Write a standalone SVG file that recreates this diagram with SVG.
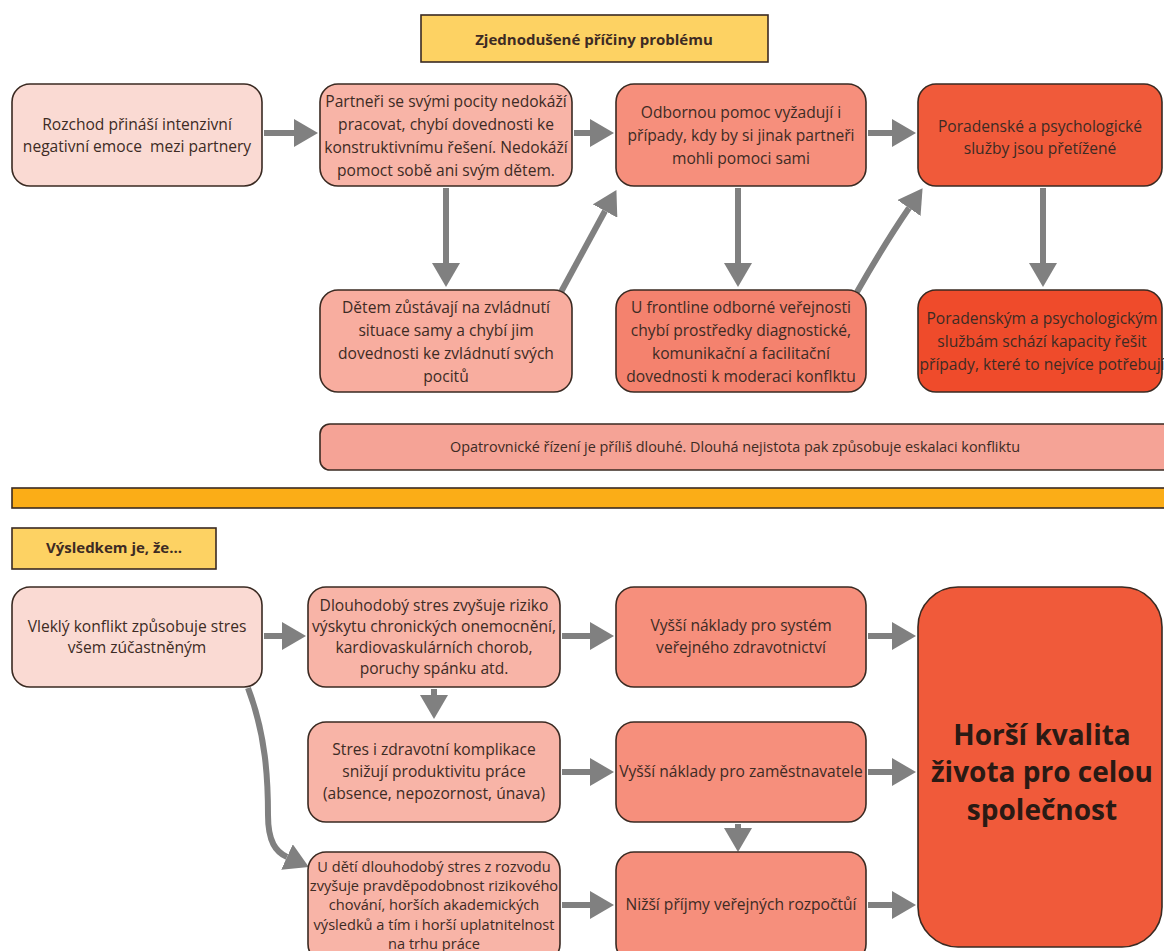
<svg xmlns="http://www.w3.org/2000/svg" width="1164" height="951" viewBox="0 0 1164 951">
<style>
.box{stroke:#3a2a22;stroke-width:1.6}
.t{font-family:"Open Sans","Noto Sans","Liberation Sans",sans-serif;font-size:15.6px;fill:#3d2b24;text-anchor:middle}
.s{font-size:14.6px}
.b{font-weight:bold;font-size:15px}
.big{font-size:28px;font-weight:bold;fill:#2a1a14}
.c1{fill:#fadad3}.c2{fill:#f8b4a7}.c3{fill:#f68f7c}.c4{fill:#f05a3a}.c5{fill:#f8ad9f}.c6{fill:#f4826e}.c7{fill:#ef4b2b}
.cl{fill:#f5a396}.cy{fill:#fdd263}.co{fill:#fbad17}
.ar{fill:none;stroke:#808080;stroke-width:6}
</style>
<defs>
<marker id="ah" viewBox="0 0 24 28" refX="0" refY="14" markerWidth="24" markerHeight="28" markerUnits="userSpaceOnUse" orient="auto">
<path d="M0,0 L24,14 L0,28 z" fill="#808080"/>
</marker>
</defs>
<rect width="1164" height="951" fill="#ffffff"/>

<g id="title">
<rect class="box cy" x="421" y="15" width="347" height="47"/>
<text class="t b" x="594" y="45">Zjednodušené příčiny problému</text>
</g>

<g id="connectors">
<line class="ar" x1="264" y1="133" x2="294" y2="133" marker-end="url(#ah)"/>
<line class="ar" x1="574" y1="133" x2="590" y2="133" marker-end="url(#ah)"/>
<line class="ar" x1="868" y1="133" x2="892" y2="133" marker-end="url(#ah)"/>
<line class="ar" x1="446" y1="188" x2="446" y2="263" marker-end="url(#ah)"/>
<line class="ar" x1="738" y1="188" x2="738" y2="263" marker-end="url(#ah)"/>
<line class="ar" x1="1043" y1="188" x2="1043" y2="263" marker-end="url(#ah)"/>
<path class="ar" d="M561,292 Q585,248 605,211" marker-end="url(#ah)"/>
<path class="ar" d="M857,292 Q885,243 909,208" marker-end="url(#ah)"/>
<line class="ar" x1="264" y1="636" x2="282" y2="636" marker-end="url(#ah)"/>
<line class="ar" x1="562" y1="636" x2="590" y2="636" marker-end="url(#ah)"/>
<line class="ar" x1="562" y1="772" x2="590" y2="772" marker-end="url(#ah)"/>
<line class="ar" x1="562" y1="905" x2="590" y2="905" marker-end="url(#ah)"/>
<line class="ar" x1="868" y1="636" x2="892" y2="636" marker-end="url(#ah)"/>
<line class="ar" x1="868" y1="772" x2="892" y2="772" marker-end="url(#ah)"/>
<line class="ar" x1="868" y1="905" x2="892" y2="905" marker-end="url(#ah)"/>
<line class="ar" x1="434" y1="689" x2="434" y2="695" marker-end="url(#ah)"/>
<line class="ar" x1="738" y1="824" x2="738" y2="828" marker-end="url(#ah)"/>
<path class="ar" d="M248,688 C266,735 268,780 268,815 C268,842 276,852 287,857" marker-end="url(#ah)"/>
</g>

<g id="n1">
<rect class="box c1" x="12" y="84" width="250" height="102" rx="18"/>
<text class="t" x="137" y="130" xml:space="preserve"><tspan x="137">Rozchod přináší intenzivní</tspan><tspan x="137" dy="22">negativní emoce  mezi partnery</tspan></text>
</g>
<g id="n2">
<rect class="box c2" x="320" y="84" width="252" height="102" rx="18"/>
<text class="t" x="446" y="107"><tspan x="446">Partneři se svými pocity nedokáží</tspan><tspan x="446" dy="23">pracovat, chybí dovednosti ke</tspan><tspan x="446" dy="23">konstruktivnímu řešení. Nedokáží</tspan><tspan x="446" dy="23">pomoct sobě ani svým dětem.</tspan></text>
</g>
<g id="n3">
<rect class="box c3" x="616" y="84" width="250" height="102" rx="18"/>
<text class="t" x="741" y="118"><tspan x="741">Odbornou pomoc vyžadují i</tspan><tspan x="741" dy="23">případy, kdy by si jinak partneři</tspan><tspan x="741" dy="23">mohli pomoci sami</tspan></text>
</g>
<g id="n4">
<rect class="box c4" x="918" y="84" width="244" height="102" rx="18"/>
<text class="t" x="1040" y="132"><tspan x="1040">Poradenské a psychologické</tspan><tspan x="1040" dy="22">služby jsou přetížené</tspan></text>
</g>
<g id="n5">
<rect class="box c5" x="320" y="290" width="252" height="102" rx="18"/>
<text class="t" x="446" y="313"><tspan x="446">Dětem zůstávají na zvládnutí</tspan><tspan x="446" dy="23">situace samy a chybí jim</tspan><tspan x="446" dy="23">dovednosti ke zvládnutí svých</tspan><tspan x="446" dy="23">pocitů</tspan></text>
</g>
<g id="n6">
<rect class="box c6" x="616" y="290" width="250" height="102" rx="18"/>
<text class="t" x="741" y="313"><tspan x="741">U frontline odborné veřejnosti</tspan><tspan x="741" dy="23">chybí prostředky diagnostické,</tspan><tspan x="741" dy="23">komunikační a facilitační</tspan><tspan x="741" dy="23">dovednosti k moderaci konflktu</tspan></text>
</g>
<g id="n7">
<rect class="box c7" x="918" y="290" width="244" height="102" rx="18"/>
<text class="t" x="1042" y="324"><tspan x="1042">Poradenským a psychologickým</tspan><tspan x="1042" dy="23">službám schází kapacity řešit</tspan><tspan x="1042" dy="23">případy, které to nejvíce potřebují</tspan></text>
</g>
<g id="n8">
<rect class="box cl" x="320" y="424" width="870" height="46" rx="10"/>
<text class="t" x="735" y="452" style="font-size:14.4px">Opatrovnické řízení je příliš dlouhé. Dlouhá nejistota pak způsobuje eskalaci konfliktu</text>
</g>

<g id="divider">
<rect class="box co" x="12" y="488" width="1160" height="20"/>
</g>

<g id="result-label">
<rect class="box cy" x="12" y="528" width="204" height="41"/>
<text class="t b" x="114" y="553">Výsledkem je, že...</text>
</g>

<g id="b1">
<rect class="box c1" x="12" y="587" width="250" height="100" rx="18"/>
<text class="t" x="137" y="632"><tspan x="137">Vleklý konflikt způsobuje stres</tspan><tspan x="137" dy="21">všem zúčastněným</tspan></text>
</g>
<g id="b2">
<rect class="box c2" x="308" y="587" width="252" height="100" rx="18"/>
<text class="t" x="434" y="611"><tspan x="434">Dlouhodobý stres zvyšuje riziko</tspan><tspan x="434" dy="21">výskytu chronických onemocnění,</tspan><tspan x="434" dy="21">kardiovaskulárních chorob,</tspan><tspan x="434" dy="21">poruchy spánku atd.</tspan></text>
</g>
<g id="b3">
<rect class="box c2" x="308" y="722" width="252" height="100" rx="18"/>
<text class="t" x="434" y="755"><tspan x="434">Stres i zdravotní komplikace</tspan><tspan x="434" dy="22">snižují produktivitu práce</tspan><tspan x="434" dy="22">(absence, nepozornost, únava)</tspan></text>
</g>
<g id="b4">
<rect class="box c2" x="308" y="852" width="252" height="110" rx="18"/>
<text class="t s" x="434" y="872"><tspan x="434">U dětí dlouhodobý stres z rozvodu</tspan><tspan x="434" dy="19.2">zvyšuje pravděpodobnost rizikového</tspan><tspan x="434" dy="19.2">chování, horších akademických</tspan><tspan x="434" dy="19.2">výsledků a tím i horší uplatnitelnost</tspan><tspan x="434" dy="19.2">na trhu práce</tspan></text>
</g>
<g id="b5">
<rect class="box c3" x="616" y="587" width="250" height="100" rx="18"/>
<text class="t" x="741" y="631"><tspan x="741">Vyšší náklady pro systém</tspan><tspan x="741" dy="22">veřejného zdravotnictví</tspan></text>
</g>
<g id="b6">
<rect class="box c3" x="616" y="722" width="250" height="100" rx="18"/>
<text class="t" x="741" y="777">Vyšší náklady pro zaměstnavatele</text>
</g>
<g id="b7">
<rect class="box c3" x="616" y="852" width="250" height="110" rx="18"/>
<text class="t" x="741" y="910">Nižší příjmy veřejných rozpočtůí</text>
</g>
<g id="big">
<rect class="box c4" x="918" y="587" width="244" height="360" rx="40"/>
<text class="t big" x="1042" y="745"><tspan x="1042">Horší kvalita</tspan><tspan x="1042" dy="37">života pro celou</tspan><tspan x="1042" dy="38">společnost</tspan></text>
</g>
</svg>
